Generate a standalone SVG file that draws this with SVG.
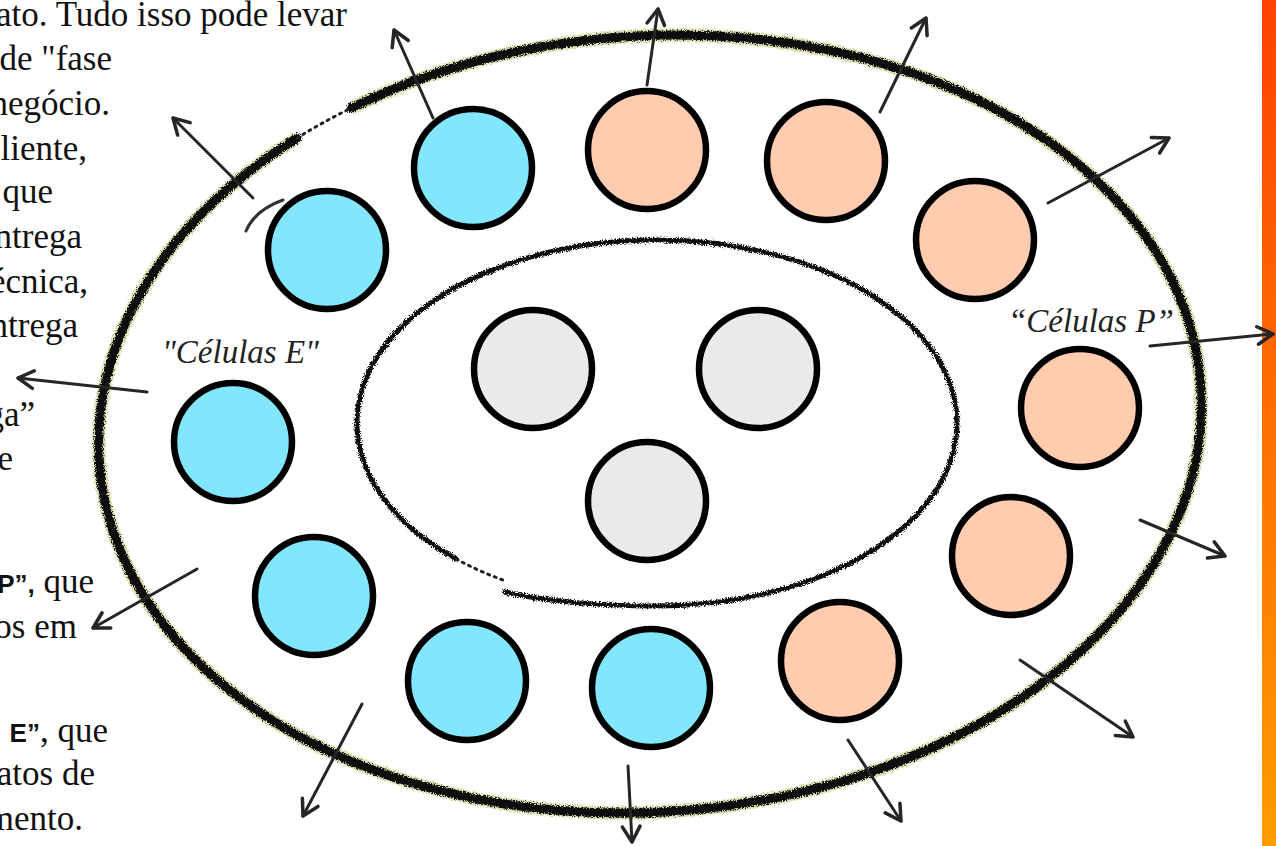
<svg xmlns="http://www.w3.org/2000/svg" width="1276" height="846" viewBox="0 0 1276 846">
<style>
 .body{font-family:"Liberation Serif","Times New Roman",serif;font-size:35px;fill:#111}
 .bold{font-family:"Liberation Sans",Arial,sans-serif;font-weight:bold;font-size:26px}
 .label{font-family:"Liberation Serif","Times New Roman",serif;font-style:italic;font-size:33px;fill:#222}
 .cell{stroke:#000;stroke-width:6.5}
 .blue{fill:#82E6FC}
 .peach{fill:#FFCCB0}
 .gray{fill:#EAEAEA}
 .arrow{stroke:#262626;stroke-width:3;fill:none;marker-end:url(#ah);stroke-linecap:round}
 .rim{fill:none;stroke:#0a0a0a;stroke-width:9;stroke-linecap:round}
 .rimhalo{fill:none;stroke:#a9a93a;stroke-width:13;opacity:.45}
 .inner{fill:none;stroke:#111;stroke-width:5;stroke-linecap:round}
 .dots{fill:none;stroke:#222;stroke-width:3;stroke-dasharray:2 5;stroke-linecap:round}
</style>
<defs>
 <linearGradient id="bar" x1="0" y1="0" x2="0" y2="1">
  <stop offset="0" stop-color="#FF4200"/>
  <stop offset="1" stop-color="#FF9C00"/>
 </linearGradient>
 <filter id="rough" x="-5%" y="-5%" width="110%" height="110%">
  <feTurbulence type="fractalNoise" baseFrequency="1.1" numOctaves="2" seed="3" result="n"/>
  <feDisplacementMap in="SourceGraphic" in2="n" scale="6" xChannelSelector="R" yChannelSelector="G"/>
 </filter>
 <marker id="ah" viewBox="0 0 20 20" refX="17" refY="10" markerWidth="22" markerHeight="22" markerUnits="userSpaceOnUse" orient="auto">
  <path d="M3,2 L17,10 L3,18" fill="none" stroke="#262626" stroke-width="3.2" stroke-linecap="round" stroke-linejoin="round"/>
 </marker>
</defs>
<rect width="1276" height="846" fill="#fff"/>
<rect id="side-bar" x="1262" y="0" width="14" height="846" fill="url(#bar)"/>

<g id="page-text" class="body" text-anchor="end">
 <text x="347" y="26">ato. Tudo isso pode levar</text>
 <text x="112" y="70">de &quot;fase</text>
 <text x="110" y="115">negócio.</text>
 <text x="87" y="160">cliente,</text>
 <text x="53" y="203">que</text>
 <text x="82" y="248">ntrega</text>
 <text x="88" y="293">écnica,</text>
 <text x="78" y="337">ntrega</text>
 <text x="35" y="426">ga”</text>
 <text x="13" y="470">e</text>
 <text x="94" y="593"><tspan class="bold">P”,</tspan> que</text>
 <text x="77" y="638">os em</text>
 <text x="108" y="742"><tspan class="bold">E”</tspan>, que</text>
 <text x="95" y="785">atos de</text>
 <text x="83" y="830">mento.</text>
</g>

<g id="outer-ring">
 <path class="rimhalo" filter="url(#rough)" d="M351.233 108.054 A552 388 -4 1 1 296.992 138.057"/>
 <path class="rim" filter="url(#rough)" d="M351.233 108.054 A552 388 -4 1 1 296.992 138.057"/>
 <path class="dots" d="M296.992 138.057 A552 388 -4 0 1 351.233 108.054"/>
 <path d="M246 231 Q255 210 283 200" fill="none" stroke="#333" stroke-width="3" stroke-linecap="round"/>
</g>

<g id="inner-ring">
 <path class="inner" filter="url(#rough)" d="M505 592 C540 601 600 606 657 606 A300 183 0 1 0 456.261 558.996"/>
 <path class="dots" d="M456.261 558.996 A300 183 0 0 0 507 581.481"/>
</g>

<g id="label-e"><text class="label" x="162" y="363">"Células E"</text></g>
<g id="label-p"><text class="label" x="1008" y="332">“Células P”</text></g>

<g id="e-cell-1"><circle class="cell blue" cx="473" cy="168" r="59"/></g>
<g id="e-cell-2"><circle class="cell blue" cx="327" cy="250" r="59"/></g>
<g id="e-cell-3"><circle class="cell blue" cx="233" cy="442" r="59"/></g>
<g id="e-cell-4"><circle class="cell blue" cx="314" cy="596" r="59"/></g>
<g id="e-cell-5"><circle class="cell blue" cx="467" cy="681" r="59"/></g>
<g id="e-cell-6"><circle class="cell blue" cx="651" cy="688" r="59"/></g>

<g id="p-cell-1"><circle class="cell peach" cx="647" cy="150" r="59"/></g>
<g id="p-cell-2"><circle class="cell peach" cx="826" cy="161" r="59"/></g>
<g id="p-cell-3"><circle class="cell peach" cx="975" cy="240" r="59"/></g>
<g id="p-cell-4"><circle class="cell peach" cx="1080" cy="408" r="59"/></g>
<g id="p-cell-5"><circle class="cell peach" cx="1011" cy="556" r="59"/></g>
<g id="p-cell-6"><circle class="cell peach" cx="840" cy="661" r="59"/></g>

<g id="core-cell-1"><circle class="cell gray" cx="533" cy="369" r="59"/></g>
<g id="core-cell-2"><circle class="cell gray" cx="758" cy="369" r="59"/></g>
<g id="core-cell-3"><circle class="cell gray" cx="647" cy="501" r="59"/></g>

<g id="connectors">
 <line class="arrow" x1="433" y1="118" x2="394" y2="30"/>
 <line class="arrow" x1="647" y1="85" x2="658" y2="9"/>
 <line class="arrow" x1="880" y1="112" x2="926" y2="18"/>
 <line class="arrow" x1="1048" y1="203" x2="1169" y2="138"/>
 <line class="arrow" x1="1150" y1="346" x2="1273" y2="334"/>
 <line class="arrow" x1="1140" y1="520" x2="1225" y2="556"/>
 <line class="arrow" x1="1020" y1="660" x2="1133" y2="737"/>
 <line class="arrow" x1="848" y1="740" x2="901" y2="821"/>
 <line class="arrow" x1="628" y1="766" x2="632" y2="842"/>
 <line class="arrow" x1="362" y1="704" x2="303" y2="816"/>
 <line class="arrow" x1="197" y1="569" x2="93" y2="628"/>
 <line class="arrow" x1="147" y1="392" x2="18" y2="378"/>
 <line class="arrow" x1="253" y1="198" x2="173" y2="118"/>
</g>
</svg>
